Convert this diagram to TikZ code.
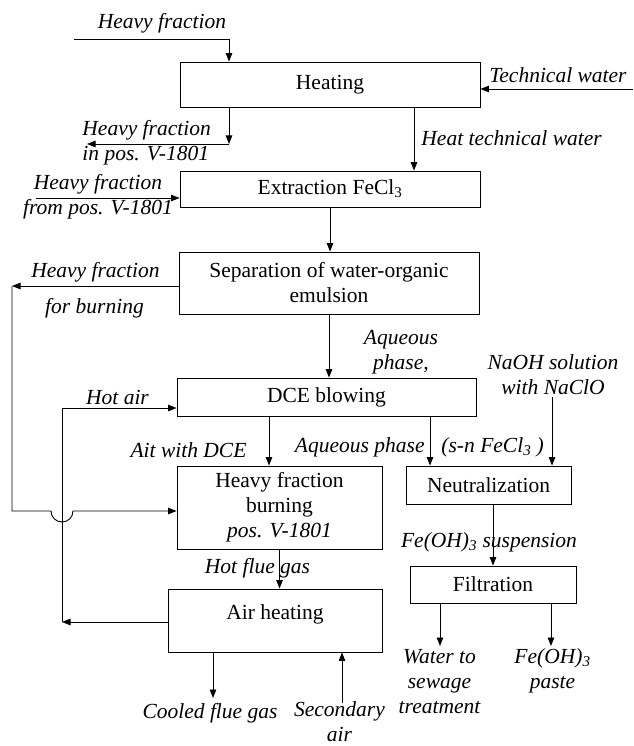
\documentclass[tikz,border=0pt]{standalone}
\usepackage{fontspec}
\setmainfont{Liberation Serif}
\usetikzlibrary{arrows.meta, positioning}

\begin{document}
\begin{tikzpicture}[x=1pt, y=-1pt, line width=0.9pt,
    font=\fontsize{21.5}{25}\selectfont,
    proc/.style={draw, rectangle, inner sep=3pt, align=center},
    lbl/.style={inner sep=0pt, font=\fontsize{21.5}{25}\selectfont\itshape, align=center},
    arr/.style={-{Triangle[length=8.5pt, width=6.5pt]}}]

    \useasboundingbox (0,0) rectangle (633,746);

    % process boxes
    \node[proc, minimum width=300pt, minimum height=45pt] (heating) at (330,84.5) {Heating};
    \node[proc, minimum width=300pt, minimum height=36pt] (extraction) at (330,189) {Extraction FeCl\textsubscript{3}};
    \node[proc, minimum width=300pt, minimum height=62pt] (separation) at (329,283) {Separation of water-organic\\emulsion};
    \node[proc, minimum width=299pt, minimum height=38pt] (dce) at (326.5,397) {DCE blowing};
    \node[proc, minimum width=205pt, minimum height=83pt] (burning) at (279.5,507.5) {Heavy fraction\\burning\\\textit{pos. V-1801}};
    \node[proc, minimum width=165pt, minimum height=38pt] (neutral) at (488.5,485) {Neutralization};
    \node[proc, minimum width=166pt, minimum height=37pt] (filtration) at (493,584.5) {Filtration};
    \node[proc, minimum width=214pt, text height=27pt, text depth=30pt] (airheat) at (275,620.5) {Air heating};

    % feeds and outlets of the heating stage
    \coordinate (hfin) at (74,39);
    \draw[arr] (hfin) -| ([xshift=-101pt]heating.north);
    \coordinate (twin) at (633,89);
    \draw[arr] (twin) -- (twin -| heating.east);
    \coordinate (hfbend) at (229,144);
    \coordinate (hfout) at (87,144);
    \draw[arr] ([xshift=-101pt]heating.south) -- (hfbend);
    \draw[arr] (hfbend) -- (hfout);
    \draw[arr] ([xshift=84pt]heating.south) -- ([xshift=84pt]extraction.north);
    \coordinate (hffrom) at (36,198);
    \draw[arr] (hffrom) -- (hffrom -| extraction.west);
    \draw[arr] (extraction.south) -- (extraction.south |- separation.north);

    % heavy fraction to burning, with a jump over the hot air line
    \coordinate (hfburn) at (12,286);
    \coordinate (jump) at (62,511);
    \draw[arr] (separation.west |- hfburn) -- (hfburn);
    \draw[arr] (hfburn) |- ([xshift=-11pt]jump) arc[start angle=180, end angle=360, radius=11pt] -- (jump -| burning.west);

    % hot air loop
    \coordinate (hacorner) at (62,622);
    \draw[arr] (airheat.west |- hacorner) -- (hacorner);
    \draw[arr] (hacorner) |- ([yshift=-11pt]dce.west);

    \draw[arr] (separation.south) -- (separation.south |- dce.north);
    \draw[arr] ([xshift=-57.5pt]dce.south) -- ([xshift=-57.5pt]dce.south |- burning.north);
    \draw[arr] ([xshift=103.5pt]dce.south) -- ([xshift=103.5pt]dce.south |- neutral.north);
    \coordinate (naoh) at (552,397);
    \draw[arr] (naoh) -- (naoh |- neutral.north);
    \draw[arr] (filtration.north |- neutral.south) -- (filtration.north);
    \draw[arr] (burning.south) -- (burning.south |- airheat.north);
    \coordinate (cooled) at (213,698);
    \draw[arr] (airheat.south -| cooled) -- (cooled);
    \coordinate (secair) at (342,703);
    \draw[arr] (secair) -- (secair |- airheat.south);
    \coordinate (water) at (440,646);
    \coordinate (paste) at (551,646);
    \draw[arr] (filtration.south -| water) -- (water);
    \draw[arr] (filtration.south -| paste) -- (paste);

    % stream labels
    \node[lbl] (hftop) at (162,23) {Heavy fraction};
    \node[lbl] (twlbl) at (558,75) {Technical water};
    \node[lbl, align=left, anchor=west] (hfoutlbl) at (82,142.5) {Heavy fraction\\in pos. V-1801};
    \node[lbl, anchor=west] (htwlbl) at (421,138) {Heat technical water};
    \node[lbl] (hffromlbl) at (98,197) {Heavy fraction\\from pos. V-1801};
    \node[lbl] (hfburnlbl) at (95.5,272) {Heavy fraction};
    \node[lbl] (forburnlbl) at (94.5,308) {for burning};
    \node[lbl] (aqlbl) at (401,352) {Aqueous\\phase,};
    \node[lbl] (naohlbl) at (553,375) {NaOH solution\\with NaClO};
    \node[lbl] (hotairlbl) at (117.5,397) {Hot air};
    \node[lbl] (aitlbl) at (188.5,450) {Ait with DCE};
    \node[lbl, anchor=east] (aqphlbl) at (425,447) {Aqueous phase};
    \node[lbl, anchor=west] (snlbl) at (441,447) {(s-n FeCl\textsubscript{3} )};
    \node[lbl] (susplbl) at (489,542) {Fe(OH)\textsubscript{3} suspension};
    \node[lbl] (hotfluelbl) at (257.5,568) {Hot flue gas};
    \node[lbl] (cooledlbl) at (210,713) {Cooled flue gas};
    \node[lbl] (secairlbl) at (339.5,722) {Secondary\\air};
    \node[lbl] (waterlbl) at (439.5,682) {Water to\\sewage\\treatment};
    \node[lbl] (pastelbl) at (552.5,671) {Fe(OH)\textsubscript{3}\\paste};
\end{tikzpicture}
\end{document}
